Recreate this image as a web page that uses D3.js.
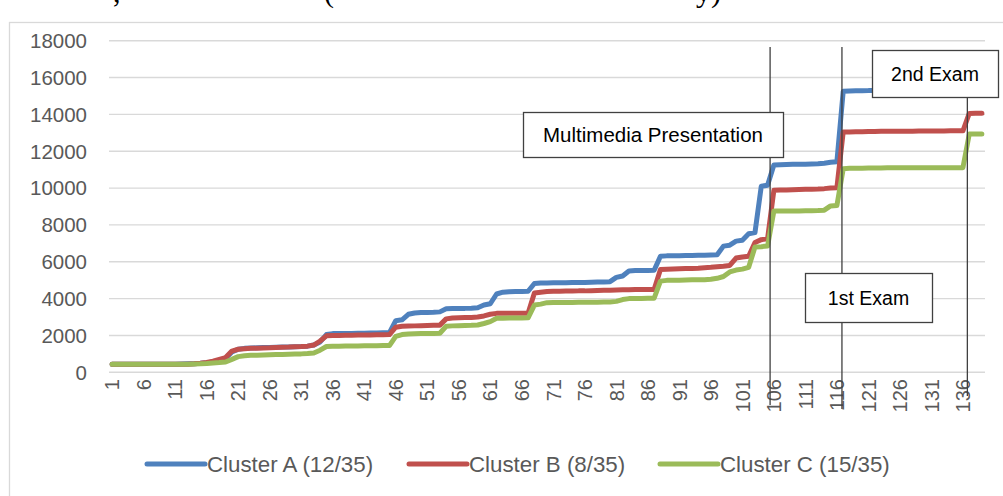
<!DOCTYPE html>
<html>
<head>
<meta charset="utf-8">
<script src="https://cdn.jsdelivr.net/npm/d3@7/dist/d3.min.js"></script>
<style>
  body { margin: 0; background: #fff; }
  svg { display: block; }
  text { font-family: "Liberation Sans", Arial, sans-serif; fill: #595959; }
</style>
</head>
<body>
<svg id="chart" width="1003" height="496"></svg>
<script>
// cumulative values per day

const days = d3.range(1, 140);            // category axis 1..139
const tickLabels = d3.range(1, 140, 5);   // 1, 6, 11, ... 136
const yTicks = d3.range(0, 18001, 2000);

const clusterA = [
  440, 440, 440, 440, 440, 440, 440, 440, 440, 440,
  440, 450, 460, 470, 490, 520, 560, 620, 750, 1100,
  1250, 1300, 1320, 1330, 1340, 1350, 1360, 1370, 1380, 1390,
  1400, 1420, 1480, 1650, 2050, 2100, 2100, 2110, 2110, 2120,
  2120, 2130, 2140, 2150, 2150, 2800, 2850, 3150, 3220, 3240,
  3250, 3260, 3280, 3450, 3460, 3470, 3470, 3480, 3500, 3650,
  3720, 4250, 4350, 4370, 4380, 4390, 4400, 4820, 4850, 4850,
  4860, 4860, 4860, 4870, 4870, 4880, 4890, 4900, 4900, 4920,
  5150, 5230, 5500, 5520, 5520, 5530, 5540, 6300, 6320, 6330,
  6330, 6340, 6340, 6350, 6360, 6370, 6380, 6850, 6900, 7120,
  7170, 7520, 7580, 10100, 10150, 11250, 11270, 11280, 11290, 11300,
  11300, 11310, 11320, 11350, 11400, 11430, 15250, 15270, 15280, 15280,
  15290, 15290, 15300, 15300, 15300, 15300, 15300, 15300, 15300, 15300,
  15300, 15300, 15300, 15300, 15300, 15300, 16200, 16220, 16220
];

const clusterB = [
  440, 440, 440, 440, 440, 440, 440, 440, 440, 440,
  440, 440, 440, 460, 490, 530, 600, 700, 800, 1150,
  1250, 1280, 1300, 1310, 1320, 1330, 1350, 1360, 1370, 1390,
  1400, 1420, 1480, 1700, 1980, 2000, 2000, 2010, 2010, 2020,
  2020, 2030, 2040, 2040, 2050, 2450, 2500, 2510, 2520, 2530,
  2540, 2550, 2560, 2900, 2950, 2960, 2970, 2980, 3000, 3060,
  3150, 3200, 3200, 3200, 3200, 3210, 3210, 4300, 4350, 4380,
  4400, 4400, 4410, 4410, 4420, 4420, 4430, 4440, 4450, 4460,
  4470, 4480, 4480, 4490, 4490, 4500, 4500, 5580, 5600, 5610,
  5620, 5630, 5640, 5650, 5680, 5700, 5730, 5760, 5800, 6200,
  6260, 6300, 7050, 7200, 7250, 9880, 9900, 9900, 9910, 9920,
  9930, 9940, 9950, 9970, 10000, 10020, 13050, 13050, 13060, 13060,
  13070, 13070, 13080, 13080, 13080, 13090, 13090, 13090, 13100, 13100,
  13100, 13100, 13100, 13110, 13110, 13110, 14050, 14060, 14060
];

const clusterC = [
  440, 440, 440, 440, 440, 440, 440, 440, 440, 440,
  440, 440, 440, 450, 460, 480, 510, 530, 560, 700,
  850, 900, 920, 930, 940, 950, 960, 970, 980, 990,
  1000, 1020, 1050, 1200, 1400, 1420, 1420, 1430, 1430, 1430,
  1440, 1440, 1440, 1450, 1450, 1950, 2050, 2080, 2090, 2100,
  2100, 2110, 2120, 2500, 2520, 2530, 2540, 2550, 2570, 2650,
  2750, 2930, 2940, 2950, 2950, 2950, 2960, 3650, 3700, 3780,
  3790, 3790, 3790, 3790, 3800, 3800, 3800, 3800, 3810, 3820,
  3850, 3950, 4000, 4010, 4010, 4020, 4020, 4950, 4990, 5000,
  5000, 5010, 5020, 5020, 5030, 5050, 5100, 5200, 5450, 5550,
  5600, 5700, 6800, 6820, 6850, 8750, 8750, 8750, 8760, 8760,
  8770, 8770, 8780, 8800, 9030, 9050, 11050, 11070, 11080, 11080,
  11090, 11090, 11090, 11100, 11100, 11100, 11100, 11100, 11100, 11100,
  11100, 11100, 11110, 11110, 11110, 11110, 12930, 12940, 12940
];

const seriesNames = ['Cluster A (12/35)', 'Cluster B (8/35)', 'Cluster C (15/35)'];
const seriesColors = ['#4f81bd', '#c0504d', '#9bbb59'];
const seriesValues = [clusterA, clusterB, clusterC];

// days where the vertical markers stand
const markerDays = [105.4, 116.8, 136.7];

const svg = d3.select('#chart');

// plot area
const plotLeft = 109, plotRight = 985, plotTop = 40.7, plotBottom = 372.3;

const x = d3.scaleLinear().domain([0.5, days.length + 0.5]).range([plotLeft, plotRight]);
const y = d3.scaleLinear().domain([0, 18000]).range([plotBottom, plotTop]);

// outer chart border (cut by the page edge)
svg.append('rect')
  .attr('x', 9.5).attr('y', 22.5)
  .attr('width', 1100).attr('height', 600)
  .attr('fill', 'none').attr('stroke', '#d9d9d9').attr('stroke-width', 1.3);

// bits of the document title above the chart
const titleBits = [[113, ','], [324, '('], [696, 'y)']];
svg.selectAll('.title-bit')
  .data(titleBits)
  .enter().append('text')
  .attr('x', d => d[0]).attr('y', 2)
  .style('font-family', '"Liberation Serif", serif')
  .style('font-size', '30px')
  .style('fill', '#000')
  .text(d => d[1]);

// gridlines
svg.append('g')
  .selectAll('line')
  .data(yTicks)
  .enter().append('line')
  .attr('x1', plotLeft).attr('x2', plotRight)
  .attr('y1', d => y(d)).attr('y2', d => y(d))
  .attr('stroke', '#d9d9d9').attr('stroke-width', 1.4);

// y axis labels
svg.append('g')
  .selectAll('text')
  .data(yTicks)
  .enter().append('text')
  .attr('x', 87)
  .attr('y', d => y(d))
  .attr('dy', '0.36em')
  .attr('text-anchor', 'end')
  .style('font-size', '20.5px')
  .text(d => d);

// x axis labels, rotated
svg.append('g')
  .selectAll('text')
  .data(tickLabels)
  .enter().append('text')
  .attr('transform', d => `translate(${x(d)}, 379) rotate(-90)`)
  .attr('dy', '0.36em')
  .attr('text-anchor', 'end')
  .style('font-size', '20px')
  .text(d => d);

// series lines: blue first, green on top
const line = d3.line()
  .x((d, i) => x(days[i]))
  .y(d => y(d));

svg.append('g')
  .selectAll('path')
  .data(seriesValues)
  .enter().append('path')
  .attr('d', d => line(d))
  .attr('fill', 'none')
  .attr('stroke', (d, i) => seriesColors[i])
  .attr('stroke-width', 5)
  .attr('stroke-linejoin', 'round')
  .attr('stroke-linecap', 'round');

// vertical marker lines
const markerTops = [47, 47, 97];
const markerBottoms = [405, 409, 396];
svg.append('g')
  .selectAll('line')
  .data(markerDays)
  .enter().append('line')
  .attr('x1', d => x(d)).attr('x2', d => x(d))
  .attr('y1', (d, i) => markerTops[i])
  .attr('y2', (d, i) => markerBottoms[i])
  .attr('stroke', '#404040').attr('stroke-width', 1.3);

// callout boxes
const boxes = [
  { label: 'Multimedia Presentation', x0: 523, y0: 112, w: 260, h: 45, size: 20.5 },
  { label: '2nd Exam', x0: 872, y0: 50, w: 126, h: 47, size: 19.5 },
  { label: '1st Exam', x0: 805, y0: 273, w: 127, h: 49, size: 19.5 }
];
const box = svg.append('g')
  .selectAll('g')
  .data(boxes)
  .enter().append('g');
box.append('rect')
  .attr('x', d => d.x0 + 0.5).attr('y', d => d.y0 + 0.5)
  .attr('width', d => d.w).attr('height', d => d.h)
  .attr('fill', '#fff').attr('stroke', '#404040').attr('stroke-width', 1.3);
box.append('text')
  .attr('x', d => d.x0 + d.w / 2)
  .attr('y', d => d.y0 + d.h / 2)
  .attr('dy', '0.36em')
  .attr('text-anchor', 'middle')
  .style('font-size', d => d.size + 'px')
  .style('fill', '#000')
  .text(d => d.label);

// legend
const legendX = [147, 409, 660];
const legend = svg.append('g')
  .selectAll('g')
  .data(seriesNames)
  .enter().append('g')
  .attr('transform', (d, i) => `translate(${legendX[i]}, 464)`);
legend.append('line')
  .attr('x1', 0).attr('x2', 58)
  .attr('stroke', (d, i) => seriesColors[i])
  .attr('stroke-width', 5)
  .attr('stroke-linecap', 'round');
legend.append('text')
  .attr('x', 60)
  .attr('dy', '0.36em')
  .style('font-size', '22.3px')
  .text(d => d);
</script>
</body>
</html>
